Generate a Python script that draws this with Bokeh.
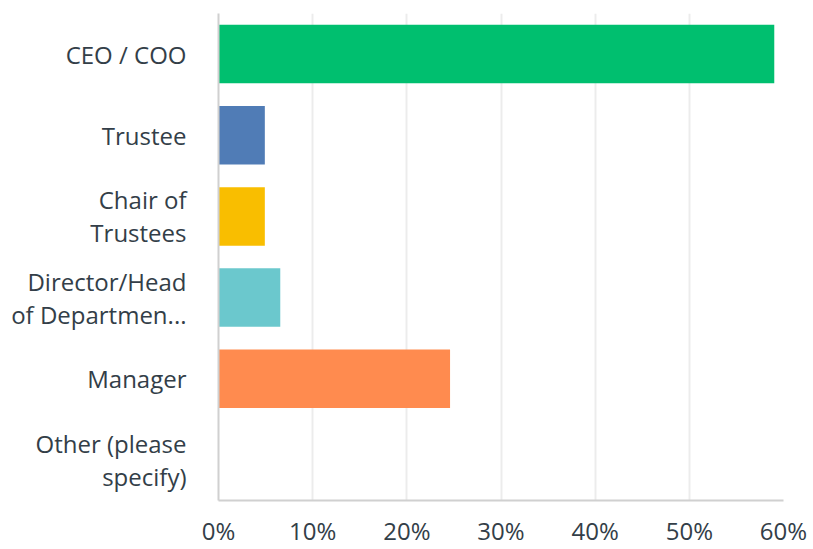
from bokeh.plotting import figure
from bokeh.models import FactorRange, FixedTicker, CustomJSTickFormatter, ColumnDataSource
from bokeh.embed import file_html
from bokeh.resources import INLINE

categories = ["CEO / COO", "Trustee", "Chair of\nTrustees", "Director/Head\nof Departmen...", "Manager", "Other (please\nspecify)"]
values = [59.02, 4.92, 4.92, 6.56, 24.59, 0.0]
colors = ["#00BF6F", "#507CB6", "#F9BE00", "#6BC8CD", "#FF8B4F", "#C5C5C5"]
x_ticks = [0, 10, 20, 30, 40, 50, 60]

src = ColumnDataSource(dict(cat=categories, val=values, col=colors))

p = figure(width=813, height=549, output_backend="svg", toolbar_location=None,
           y_range=FactorRange(*reversed(categories)), x_range=(0, 60),
           min_border_left=218, min_border_right=30, min_border_top=13, min_border_bottom=44)
p.hbar(y="cat", right="val", left=0, height=0.72, fill_color="col", line_color=None, source=src)

p.outline_line_color = None
p.ygrid.grid_line_color = None
p.xgrid.grid_line_color = "#ECECEC"
p.xgrid.grid_line_width = 2
p.xaxis.ticker = FixedTicker(ticks=x_ticks)
p.xaxis.formatter = CustomJSTickFormatter(code="return tick + '%';")
for ax in (p.xaxis[0], p.yaxis[0]):
    ax.axis_line_color = "#D0D0D0"
    ax.axis_line_width = 2
    ax.major_tick_line_color = None
    ax.minor_tick_line_color = None
    ax.major_label_text_font = "Open Sans"
    ax.major_label_text_font_size = "24px"
    ax.major_label_text_color = "#333E48"
p.yaxis.major_label_text_line_height = 1.0
p.xaxis.major_label_standoff = 7
p.yaxis.major_label_standoff = 26

open("out.html", "w").write(file_html(p, INLINE))
